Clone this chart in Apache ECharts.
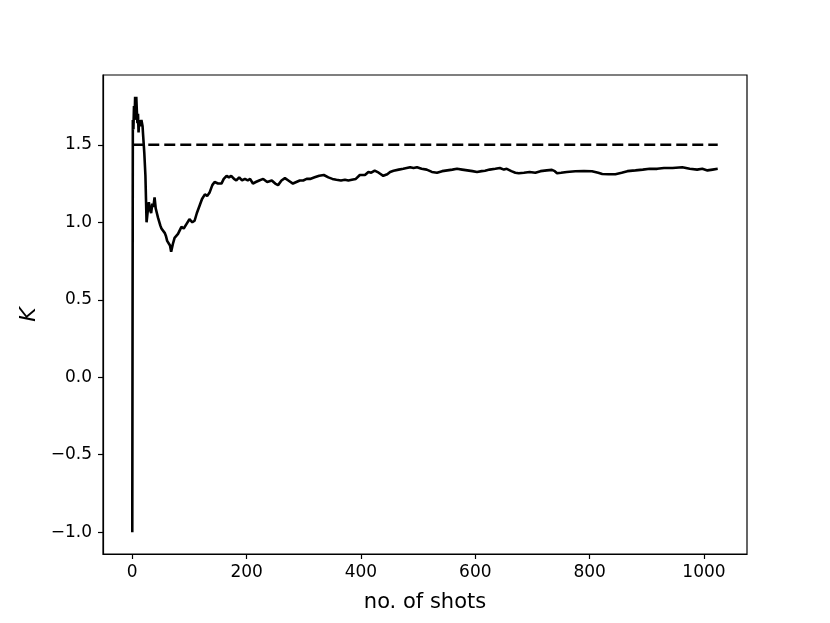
<!DOCTYPE html>
<html>
<head>
<meta charset="utf-8">
<script src="https://cdn.jsdelivr.net/npm/echarts@6/dist/echarts.min.js"></script>
<style>
  html, body { margin: 0; padding: 0; background: #fff; }
  #chart { width: 830px; height: 623px; }
</style>
</head>
<body>
<div id="chart"></div>
<script>
// shot number and running estimate of K
const shots = [
  0, 1, 2, 3, 4, 5, 6, 7, 8, 9, 10, 11, 12, 14, 16, 18, 19, 21, 23, 24, 25, 27, 29, 31, 33, 35, 37, 39,
  41, 43, 45, 47, 49, 51, 54, 57, 59, 61, 64, 66, 68, 71, 74, 77, 80, 83, 86, 90, 95, 100, 105, 109,
  113, 118, 122, 127, 131, 135, 140, 144, 150, 156, 160, 165, 169, 173, 178, 182, 187, 192, 197, 202,
  206, 211, 216, 222, 229, 236, 244, 250, 255, 261, 267, 273, 281, 287, 293, 299, 305, 311, 319, 327,
  335, 343, 350, 357, 365, 372, 378, 384, 391, 398, 407, 413, 418, 424, 431, 439, 446, 451, 457, 466,
  474, 480, 486, 492, 498, 506, 515, 524, 533, 542, 551, 560, 568, 577, 586, 595, 603, 611, 617, 625,
  635, 643, 650, 655, 663, 670, 676, 685, 695, 705, 714, 725, 734, 739, 743, 750, 760, 775, 790, 804,
  815, 822, 833, 845, 856, 866, 880, 893, 905, 918, 930, 945, 962, 975, 988, 997, 1006, 1015, 1024
];
const kValues = [
  -1.0, 1.66, 1.60, 1.75, 1.66, 1.81, 1.70, 1.81, 1.72, 1.64, 1.70, 1.58, 1.66, 1.62, 1.66, 1.62, 1.56,
  1.45, 1.30, 1.15, 1.00, 1.07, 1.13, 1.08, 1.06, 1.12, 1.10, 1.16, 1.09, 1.06, 1.03, 1.04, 0.98, 0.96,
  0.97, 0.93, 0.91, 0.88, 0.89, 0.85, 0.81, 0.86, 0.90, 0.89, 0.925, 0.93, 0.97, 0.96, 0.99, 1.02, 1.00,
  1.01, 1.06, 1.11, 1.15, 1.18, 1.17, 1.19, 1.24, 1.26, 1.25, 1.25, 1.28, 1.30, 1.29, 1.30, 1.28, 1.27,
  1.29, 1.27, 1.28, 1.27, 1.28, 1.25, 1.26, 1.27, 1.28, 1.26, 1.27, 1.25, 1.24, 1.27, 1.285, 1.27, 1.25,
  1.26, 1.27, 1.27, 1.28, 1.28, 1.29, 1.30, 1.305, 1.29, 1.28, 1.275, 1.27, 1.275, 1.27, 1.275, 1.28,
  1.305, 1.305, 1.325, 1.32, 1.333, 1.32, 1.30, 1.31, 1.325, 1.333, 1.34, 1.345, 1.35, 1.355, 1.35,
  1.355, 1.345, 1.34, 1.325, 1.32, 1.33, 1.335, 1.34, 1.345, 1.34, 1.335, 1.33, 1.325, 1.33, 1.333,
  1.34, 1.345, 1.35, 1.34, 1.345, 1.33, 1.32, 1.317, 1.32, 1.325, 1.32, 1.33, 1.335, 1.338, 1.33, 1.317,
  1.32, 1.325, 1.329, 1.33, 1.329, 1.32, 1.312, 1.31, 1.31, 1.32, 1.33, 1.335, 1.34, 1.345, 1.345, 1.35,
  1.35, 1.355, 1.345, 1.34, 1.345, 1.335, 1.34, 1.345
];
// reference value (dashed)
const refShots = [0, 1024];
const refValues = [1.5, 1.5];

const xTicks = [0, 200, 400, 600, 800, 1000];
const yTicks = [-1.0, -0.5, 0.0, 0.5, 1.0, 1.5];

const font = 'DejaVu Sans';
const pair = (xs, ys) => xs.map((x, i) => [x, ys[i]]);

const chart = echarts.init(document.getElementById('chart'));
chart.setOption({
  animation: false,
  backgroundColor: '#fff',
  grid: {
    left: 103, right: 83, top: 75, bottom: 69,
    show: true, borderColor: '#000', borderWidth: 1.2, backgroundColor: 'transparent'
  },
  xAxis: {
    type: 'value',
    min: -51.2,
    max: 1075.2,
    name: 'no. of shots',
    nameLocation: 'middle',
    nameGap: 38,
    nameTextStyle: { fontFamily: font, fontSize: 21, color: '#000' },
    axisLine: { show: true, onZero: false, lineStyle: { color: '#000', width: 1.2 } },
    axisTick: { show: true, inside: false, length: 5, customValues: xTicks, lineStyle: { color: '#000', width: 1.2 } },
    axisLabel: {
      customValues: xTicks, margin: 10, fontFamily: font, fontSize: 17, color: '#000',
      formatter: v => String(v)
    },
    splitLine: { show: false }
  },
  yAxis: {
    type: 'value',
    min: -1.1405,
    max: 1.9505,
    name: 'K',
    nameLocation: 'middle',
    nameRotate: 90,
    nameGap: 60,
    nameTextStyle: { fontFamily: font, fontSize: 22, fontStyle: 'italic', color: '#000' },
    axisLine: { show: true, onZero: false, lineStyle: { color: '#000', width: 1.2 } },
    axisTick: { show: true, inside: false, length: 5, customValues: yTicks, lineStyle: { color: '#000', width: 1.2 } },
    axisLabel: {
      customValues: yTicks,
      margin: 11,
      fontFamily: font, fontSize: 17, color: '#000',
      formatter: v => v.toFixed(1).replace('-', '\u2212')
    },
    splitLine: { show: false }
  },
  series: [
    {
      name: 'K',
      type: 'line',
      data: pair(shots, kValues),
      showSymbol: false,
      lineStyle: { color: '#000', width: 2.6 },
      z: 3
    },
    {
      name: 'reference',
      type: 'line',
      data: pair(refShots, refValues),
      showSymbol: false,
      lineStyle: { color: '#000', width: 2.6, type: [11, 5] },
      z: 2
    }
  ]
});
</script>
</body>
</html>
